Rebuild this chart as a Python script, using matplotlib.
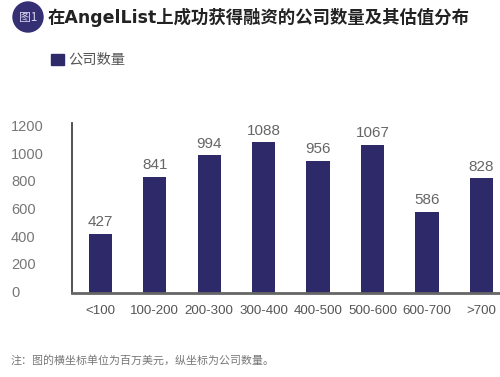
import matplotlib
matplotlib.use("Agg")
import matplotlib.pyplot as plt
from matplotlib.patches import Ellipse, Rectangle
import matplotlib.transforms as mtransforms

plt.rcParams['font.family'] = ['Noto Sans CJK SC', 'DejaVu Sans']

categories = ["<100", "100-200", "200-300", "300-400", "400-500", "500-600", "600-700", ">700"]
counts = [427, 841, 994, 1088, 956, 1067, 586, 828]
yticks = [0, 200, 400, 600, 800, 1000, 1200]
title = "在AngelList上成功获得融资的公司数量及其估值分布"
legend_label = "公司数量"
note = "注：图的横坐标单位为百万美元，纵坐标为公司数量。"

W, H = 500, 377
fig = plt.figure(figsize=(W / 100, H / 100), dpi=100)
fig.patch.set_facecolor("white")

navy = "#2e2a6a"
num_font = ['Liberation Sans', 'DejaVu Sans']

ax = fig.add_axes([72 / W, 1 - 293 / H, (W - 72) / W, (293 - 123) / H])
x = list(range(len(categories)))
bars = ax.bar(x, counts, width=0.43, color=navy)
lbls = ax.bar_label(bars, labels=[str(v) for v in counts], padding=3.5,
                    fontsize=11, color="#666666")
for t in lbls:
    t.set_family(num_font)
ax.set_xlim(-0.52, 7.34)
ax.set_ylim(0, 1228)
ax.set_xticks(x)
ax.set_xticklabels(categories, fontsize=9.6, color="#555555", family=num_font)
ax.tick_params(axis="x", length=0, pad=9)
ax.tick_params(axis="y", length=0, labelleft=False)
ax.set_yticks(yticks)
for s in ["top", "right"]:
    ax.spines[s].set_visible(False)
ax.spines["left"].set_color("#444444")
ax.spines["left"].set_linewidth(1.3)
ax.spines["bottom"].set_color("#666666")
ax.spines["bottom"].set_linewidth(2)
ax.set_facecolor("white")

trans = mtransforms.blended_transform_factory(fig.transFigure, ax.transData)
for v in yticks:
    ax.text(11 / W, v, str(v), transform=trans, ha="left", va="center",
            fontsize=10.5, color="#777777", family=num_font)

# title badge
fig.patches.append(Ellipse((28 / W, 1 - 17 / H), 30 / W, 30 / H,
                           transform=fig.transFigure, color="#352f73", zorder=1))
fig.text(28 / W, 1 - 17.5 / H, "图1", ha="center", va="center", fontsize=8.5,
         color="#d8d4f0", zorder=2)
fig.text(48 / W, 1 - 17 / H, title, ha="left", va="center", fontsize=12.5,
         fontweight="bold", color="#222222", family=['DejaVu Sans', 'Noto Sans CJK SC'])

# legend
fig.patches.append(Rectangle((51 / W, 1 - 65 / H), 13 / W, 11 / H,
                             transform=fig.transFigure, color=navy))
fig.text(68 / W, 1 - 60 / H, legend_label, ha="left", va="center", fontsize=10.3,
         color="#555555")

fig.text(11 / W, 1 - 360 / H, note, ha="left", va="center", fontsize=7.9,
         color="#777777")

fig.savefig("out.png", dpi=100, facecolor="white")
